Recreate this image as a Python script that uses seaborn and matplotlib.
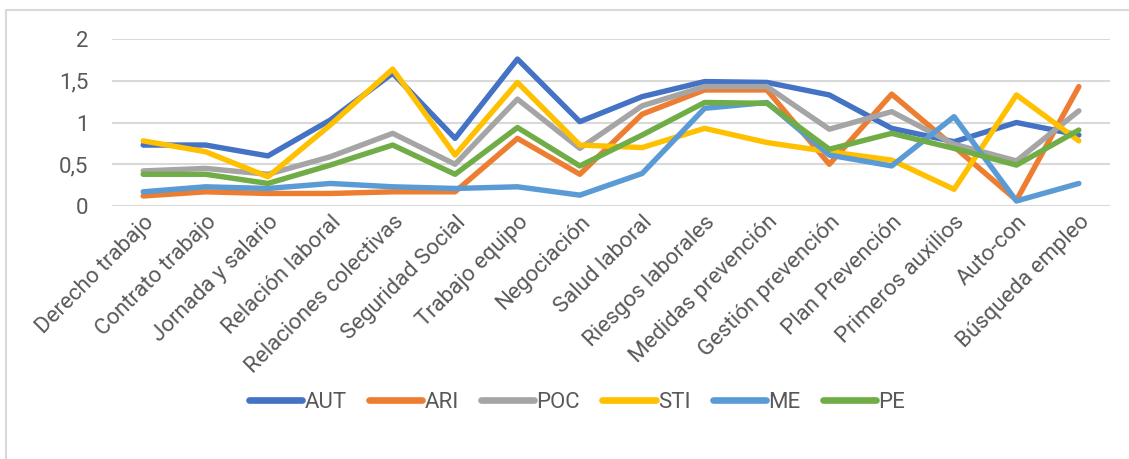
import matplotlib
matplotlib.use("Agg")
import matplotlib.pyplot as plt
from matplotlib.lines import Line2D
from matplotlib.ticker import FuncFormatter
import seaborn as sns
import pandas as pd

categories = ["Derecho trabajo", "Contrato trabajo", "Jornada y salario", "Relación laboral",
              "Relaciones colectivas", "Seguridad Social", "Trabajo equipo", "Negociación",
              "Salud laboral", "Riesgos laborales", "Medidas prevención", "Gestión prevención",
              "Plan Prevención", "Primeros auxilios", "Auto-con", "Búsqueda empleo"]

AUT = [0.73, 0.73, 0.60, 1.03, 1.59, 0.81, 1.76, 1.01, 1.31, 1.49, 1.48, 1.33, 0.93, 0.77, 1.00, 0.85]
ARI = [0.12, 0.17, 0.15, 0.15, 0.17, 0.17, 0.81, 0.38, 1.10, 1.39, 1.39, 0.50, 1.34, 0.71, 0.07, 1.43]
POC = [0.42, 0.45, 0.38, 0.59, 0.87, 0.50, 1.28, 0.69, 1.20, 1.43, 1.43, 0.92, 1.13, 0.74, 0.54, 1.14]
STI = [0.78, 0.65, 0.35, 0.97, 1.64, 0.61, 1.48, 0.73, 0.70, 0.93, 0.76, 0.65, 0.55, 0.20, 1.33, 0.78]
ME = [0.17, 0.23, 0.21, 0.27, 0.23, 0.21, 0.23, 0.13, 0.39, 1.17, 1.24, 0.61, 0.48, 1.07, 0.06, 0.27]
PE = [0.38, 0.38, 0.27, 0.49, 0.73, 0.38, 0.94, 0.48, 0.85, 1.24, 1.23, 0.68, 0.87, 0.69, 0.49, 0.91]

series = {"AUT": AUT, "ARI": ARI, "POC": POC, "STI": STI, "ME": ME, "PE": PE}
colors = ["#4472C4", "#ED7D31", "#A5A5A5", "#FFC000", "#5B9BD5", "#70AD47"]

rows = []
for name, vals in series.items():
    for i, v in enumerate(vals):
        rows.append({"tema": i, "serie": name, "valor": v})
df = pd.DataFrame(rows)

sns.set_style("white")
plt.rcParams['font.family'] = ['Roboto', 'DejaVu Sans']
txt = "#595959"

fig = plt.figure(figsize=(11.29, 4.59), dpi=100)
ax = fig.add_axes([0.0992, 0.5512, 0.884, 0.3638])

sns.lineplot(data=df, x="tema", y="valor", hue="serie", palette=colors, ax=ax,
             linewidth=3.9, legend=False, sort=False)
for ln in ax.lines:
    ln.set_solid_capstyle("round")
    ln.set_solid_joinstyle("round")
    ln.set_clip_on(False)

ax.set_xlim(-0.5, 15.5)
ax.set_ylim(0, 2)
ax.set_yticks([0, 0.5, 1, 1.5, 2])
ax.yaxis.set_major_formatter(FuncFormatter(lambda v, p: f"{v:g}".replace(".", ",")))
ax.grid(axis="y", color="#D9D9D9", linewidth=1.5)
ax.set_axisbelow(True)
for s in ax.spines.values():
    s.set_visible(False)
ax.set_xlabel("")
ax.set_ylabel("")
ax.tick_params(axis="y", length=0, pad=17, labelsize=16, labelcolor=txt)
ax.tick_params(axis="x", length=0, pad=4, labelsize=16, labelcolor=txt)
ax.set_xticks(range(len(categories)))
ax.set_xticklabels(categories, rotation=45, ha="right", va="top", rotation_mode="anchor")

handles = [Line2D([], [], color=c, linewidth=4.8, solid_capstyle="round") for c in colors]
fig.legend(handles, list(series.keys()), loc="center", bbox_to_anchor=(577 / 1129, 1 - 402 / 459),
           ncol=6, frameon=False, fontsize=16, labelcolor=txt, handlelength=2.4,
           handletextpad=0.1, columnspacing=1.0)

# chart frame
fig.add_artist(Line2D([6 / 1129, 1], [1 - 10 / 459, 1 - 10 / 459], color="#D9D9D9", linewidth=1.5,
                      transform=fig.transFigure))
fig.add_artist(Line2D([6 / 1129, 6 / 1129], [0, 1 - 10 / 459], color="#D9D9D9", linewidth=1.5,
                      transform=fig.transFigure))

fig.savefig("out.png", dpi=100)
